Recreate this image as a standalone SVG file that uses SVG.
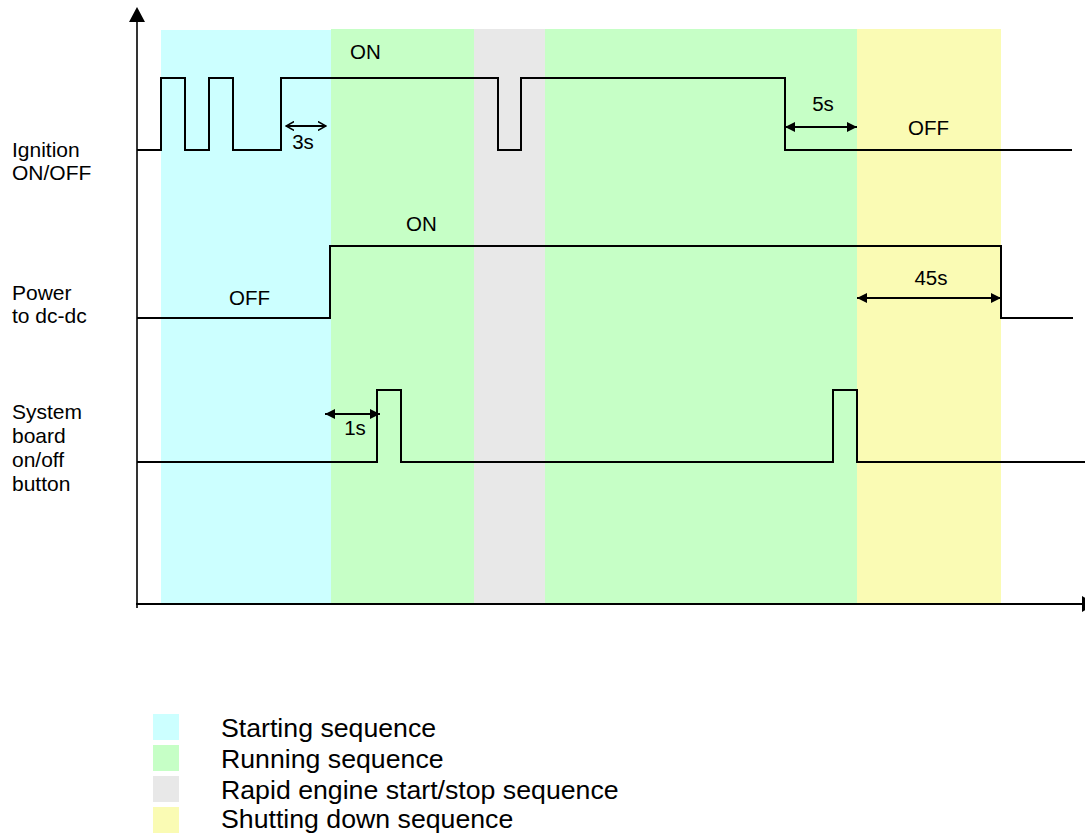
<svg xmlns="http://www.w3.org/2000/svg" width="1085" height="833" viewBox="0 0 1085 833">
<style>
.lbl{font-family:"Liberation Sans",Arial,sans-serif;font-size:20.5px;fill:#000}
.side{font-family:"Liberation Sans",Arial,sans-serif;font-size:21px;fill:#000}
.leg{font-family:"Liberation Sans",Arial,sans-serif;font-size:26.7px;fill:#000}
.sig{fill:none;stroke:#000;stroke-width:2;stroke-linejoin:miter}
.dim{fill:none;stroke:#000;stroke-width:2}
.ax{fill:none;stroke:#000;stroke-width:1.6}
.c1{fill:#CCFFFF}.c2{fill:#C6FFC6}.c3{fill:#E8E8E8}.c4{fill:#FAFBB4}
</style>
<defs>
<marker id="fa" viewBox="0 0 10 10" refX="10" refY="5" markerWidth="10" markerHeight="10" markerUnits="userSpaceOnUse" orient="auto-start-reverse"><path d="M0,0 L10,5 L0,10 Z" fill="#000"/></marker>
<marker id="oa" viewBox="0 0 10 10" refX="9" refY="5" markerWidth="9" markerHeight="10" markerUnits="userSpaceOnUse" orient="auto-start-reverse"><path d="M0,0 L9,5 L0,10" fill="none" stroke="#000" stroke-width="1.6"/></marker>
</defs>
<g id="bands">
<rect class="c1" x="161" y="30" width="170" height="574"/>
<rect class="c2" x="331" y="29" width="143" height="575"/>
<rect class="c3" x="474" y="29" width="71" height="575"/>
<rect class="c2" x="545" y="29" width="312" height="575"/>
<rect class="c4" x="857" y="29" width="144" height="575"/>
</g>
<g id="axes">
<line class="ax" x1="137" y1="20" x2="137" y2="608"/>
<path d="M137,7 L145,22 L129,22 Z" fill="#000"/>
<line x1="136" y1="604" x2="1083" y2="604" stroke="#000" stroke-width="2"/>
<path d="M1082,596 L1095,604 L1082,612 Z" fill="#000"/>
</g>
<g id="ignition">
<polyline class="sig" points="137,150 161,150 161,78 185,78 185,150 209,150 209,78 233,78 233,150 281,150 281,78 498,78 498,150 521,150 521,78 785,78 785,150 1072,150"/>
<text class="side" x="12" y="157">Ignition</text>
<text class="side" x="12" y="180">ON/OFF</text>
<text class="lbl" x="350" y="59">ON</text>
<text class="lbl" x="908" y="135">OFF</text>
</g>
<g id="power">
<polyline class="sig" points="137,318 330,318 330,246 1001,246 1001,318 1073,318"/>
<text class="side" x="12" y="300">Power</text>
<text class="side" x="12" y="323">to dc-dc</text>
<text class="lbl" x="406" y="231">ON</text>
<text class="lbl" x="229" y="305">OFF</text>
</g>
<g id="button">
<polyline class="sig" points="137,462 377,462 377,390 401,390 401,462 833,462 833,390 857,390 857,462 1085,462"/>
<text class="side" x="12" y="419">System</text>
<text class="side" x="12" y="443">board</text>
<text class="side" x="12" y="467">on/off</text>
<text class="side" x="12" y="491">button</text>
</g>
<g id="connectors">
<line class="dim" x1="286" y1="126" x2="326" y2="126" marker-start="url(#oa)" marker-end="url(#oa)"/>
<line class="dim" x1="785" y1="127" x2="857" y2="127" marker-start="url(#fa)" marker-end="url(#fa)"/>
<line class="dim" x1="857" y1="298" x2="1001" y2="298" marker-start="url(#fa)" marker-end="url(#fa)"/>
<line class="dim" x1="325" y1="414" x2="380" y2="414" marker-start="url(#fa)" marker-end="url(#fa)"/>
</g>
<g id="dim-labels">
<text class="lbl" x="303" y="149" text-anchor="middle">3s</text>
<text class="lbl" x="823" y="111" text-anchor="middle">5s</text>
<text class="lbl" x="931" y="285" text-anchor="middle">45s</text>
<text class="lbl" x="355" y="435" text-anchor="middle">1s</text>
</g>
<g id="legend">
<rect class="c1" x="153" y="714" width="26" height="26"/>
<rect class="c2" x="153" y="745" width="26" height="26"/>
<rect class="c3" x="153" y="776" width="26" height="26"/>
<rect class="c4" x="153" y="807" width="26" height="26"/>
<text class="leg" x="221" y="737">Starting sequence</text>
<text class="leg" x="221" y="768">Running sequence</text>
<text class="leg" x="221" y="799">Rapid engine start/stop sequence</text>
<text class="leg" x="221" y="828">Shutting down sequence</text>
</g>
</svg>
